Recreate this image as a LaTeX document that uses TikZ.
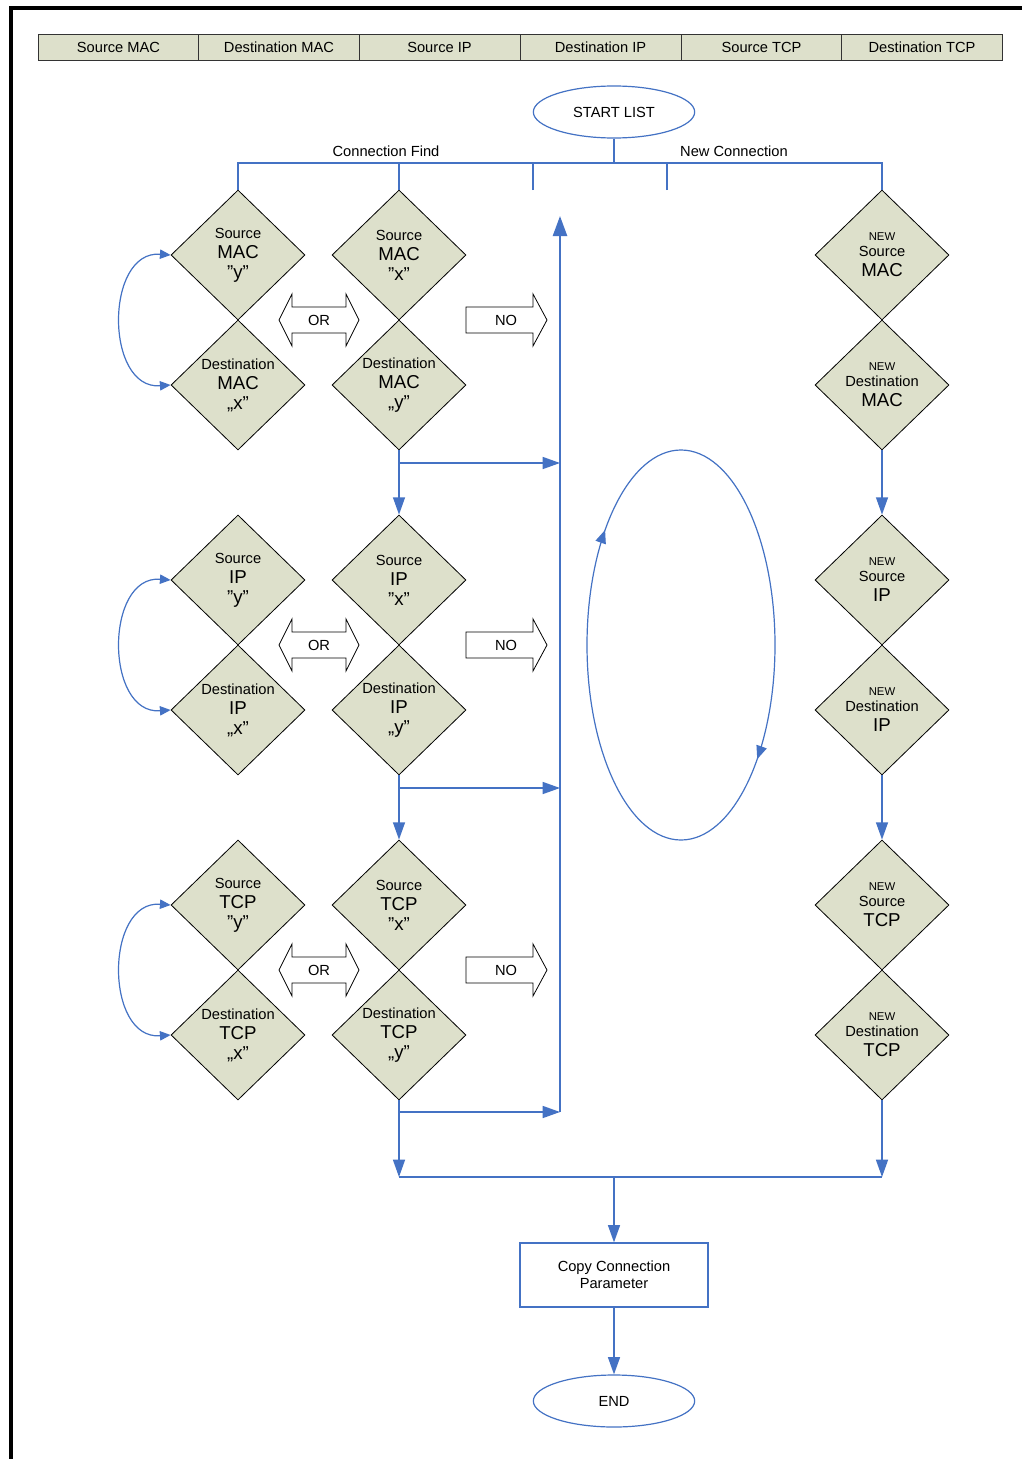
\documentclass[tikz,border=0pt]{standalone}
\usepackage{fontspec}
\setmainfont{Liberation Sans}
\usetikzlibrary{shapes.geometric,arrows.meta,decorations.markings,calc}
\definecolor{cblue}{RGB}{68,114,196}
\definecolor{dfill}{RGB}{221,224,203}
\newcommand\bgtx{\fontsize{14}{16}\selectfont}
\newcommand\smtx{\fontsize{8.5}{10}\selectfont}
\begin{document}
\begin{tikzpicture}[x=0.75pt,y=-0.75pt,
  cell/.style={draw=black!80, fill=dfill, line width=0.7pt, minimum width=120.75pt, minimum height=19.5pt, inner sep=0pt, font=\fontsize{11}{13}\selectfont},
  dia/.style={diamond, draw=black, line width=0.6pt, fill=dfill, minimum width=100.5pt, minimum height=97.5pt, inner sep=0pt},
  dtext/.style={align=center, inner sep=0pt, font=\fontsize{11}{15}\selectfont},
  term/.style={ellipse, draw=cblue, line width=0.9pt, minimum width=121pt, minimum height=39pt, inner sep=0pt, font=\fontsize{11}{13}\selectfont},
  conn/.style={draw=cblue, line width=1.1pt},
  tree/.style={draw=cblue, line width=0.8pt},
  tip/.style={-{Triangle[length=13pt,width=9pt]}},
  blk/.style={draw=black, line width=0.6pt, fill=white},
  lbl/.style={inner sep=0pt, font=\fontsize{11}{13}\selectfont},
]
\useasboundingbox (0,0) rectangle (1022,1459);
\fill[white] (0,0) rectangle (1022,1459);
% page frame
\draw[line width=3pt] (11,1459) -- (11,8.5) -- (1022,8.5);

% header table
\node[cell] (t1) at (118.5,47) {Source MAC};
\node[cell] (t2) at (279,47) {Destination MAC};
\node[cell] (t3) at (439.5,47) {Source IP};
\node[cell] (t4) at (600.5,47) {Destination IP};
\node[cell] (t5) at (761.5,47) {Source TCP};
\node[cell] (t6) at (922,47) {Destination TCP};

% start
\node[term] (start) at (614,112) {START LIST};

% diamonds
\newcommand\dnode[3]{\node[dia] (#1) at (#2) {}; \node[dtext] (#1t) at (#1) {#3};}
\dnode{a1}{238,255}{Source\\{\bgtx MAC}\\{\bgtx ”y”}}
\dnode{a2}{238,385}{Destination\\{\bgtx MAC}\\{\bgtx „x”}}
\dnode{b1}{399,255}{Source\\{\bgtx MAC}\\{\bgtx ”x”}}
\dnode{b2}{399,385}{Destination\\{\bgtx MAC}\\{\bgtx „y”}}
\dnode{a3}{238,580}{Source\\{\bgtx IP}\\{\bgtx ”y”}}
\dnode{a4}{238,710}{Destination\\{\bgtx IP}\\{\bgtx „x”}}
\dnode{b3}{399,580}{Source\\{\bgtx IP}\\{\bgtx ”x”}}
\dnode{b4}{399,710}{Destination\\{\bgtx IP}\\{\bgtx „y”}}
\dnode{a5}{238,905}{Source\\{\bgtx TCP}\\{\bgtx ”y”}}
\dnode{a6}{238,1035}{Destination\\{\bgtx TCP}\\{\bgtx „x”}}
\dnode{b5}{399,905}{Source\\{\bgtx TCP}\\{\bgtx ”x”}}
\dnode{b6}{399,1035}{Destination\\{\bgtx TCP}\\{\bgtx „y”}}
\dnode{n1}{882,255}{{\smtx NEW}\\[-3pt]Source\\{\bgtx MAC}}
\dnode{n2}{882,385}{{\smtx NEW}\\[-3pt]Destination\\{\bgtx MAC}}
\dnode{n3}{882,580}{{\smtx NEW}\\[-3pt]Source\\{\bgtx IP}}
\dnode{n4}{882,710}{{\smtx NEW}\\[-3pt]Destination\\{\bgtx IP}}
\dnode{n5}{882,905}{{\smtx NEW}\\[-3pt]Source\\{\bgtx TCP}}
\dnode{n6}{882,1035}{{\smtx NEW}\\[-3pt]Destination\\{\bgtx TCP}}

% tree from start
\coordinate (j) at (614,163);
\coordinate (f1) at (533,190);
\coordinate (f2) at (667,190);
\draw[tree] (start) -- (j);
\draw[tree] (a1.north) |- (j) -| (n1.north);
\draw[tree] (b1.north) -- (b1.north |- j);
\draw[tree] (f1) -- (f1 |- j);
\draw[tree] (f2) -- (f2 |- j);
\node[lbl] (cf) at (386,151) {Connection Find};
\node[lbl] (nc) at (734,151) {New Connection};

% OR / NO block arrows
\foreach \yy in {320,645,970}{
  \draw[blk] (279,\yy) -- (292,\yy-26) -- (292,\yy-13) -- (346,\yy-13) -- (346,\yy-26) -- (359,\yy) -- (346,\yy+26) -- (346,\yy+13) -- (292,\yy+13) -- (292,\yy+26) -- cycle;
  \node[lbl] (or\yy) at (319,\yy) {OR};
  \draw[blk] (466,\yy-13) -- (533,\yy-13) -- (533,\yy-26) -- (547,\yy) -- (533,\yy+26) -- (533,\yy+13) -- (466,\yy+13) -- cycle;
  \node[lbl] (no\yy) at (506,\yy) {NO};
}

% curved double arrows
\foreach \p/\q in {a1/a2,a3/a4,a5/a6}{
  \draw[conn, line width=0.9pt, {Triangle[length=8pt,width=7pt]}-{Triangle[length=8pt,width=7pt]}]
    (\p.west) .. controls +(-66,-5) and +(-66,5) .. (\q.west);
}

% big vertical return line
\coordinate (vb) at (560,1112);
\coordinate (vt) at (560,216);
\draw[conn, line width=1.8pt, -{Triangle[length=15pt,width=10.5pt]}] (vb) -- (vt);
\coordinate (h1) at (560,463);
\coordinate (h2) at (560,788);
\coordinate (h3) at (560,1112);
\draw[conn, tip] (b2.south |- h1) -- (h1);
\draw[conn, tip] (b4.south |- h2) -- (h2);
\draw[conn, tip] (b6.south |- h3) -- (h3);

% vertical flow arrows
\draw[conn, tip] (b2.south) -- (b3.north);
\draw[conn, tip] (b4.south) -- (b5.north);
\draw[conn, tip] (n2.south) -- (n3.north);
\draw[conn, tip] (n4.south) -- (n5.north);

% merge
\coordinate (m) at (614,1177);
\draw[conn, tip] (b6.south) -- (b6.south |- m);
\draw[conn, tip] (n6.south) -- (n6.south |- m);
\draw[conn] (b6.south |- m) -- (n6.south |- m);

\node[draw=cblue, line width=0.9pt, minimum width=141pt, minimum height=48pt, align=center, inner sep=0pt,
  font=\fontsize{11}{12.75}\selectfont] (copy) at (614,1275) {Copy Connection\\Parameter};
\node[term] (end) at (614,1401) {END};
\draw[conn, tip] (m) -- (copy.north);
\draw[conn, tip] (copy.south) -- (end.north);

% loop oval
\draw[conn, line width=0.9pt, postaction={decorate}, decoration={markings,
   mark=at position 0.124 with {\arrow{Triangle[length=10pt,width=8pt]}},
   mark=at position 0.625 with {\arrow{Triangle[length=10pt,width=8pt]}}}]
  (681,645) ellipse [x radius=94, y radius=195];
\end{tikzpicture}
\end{document}
